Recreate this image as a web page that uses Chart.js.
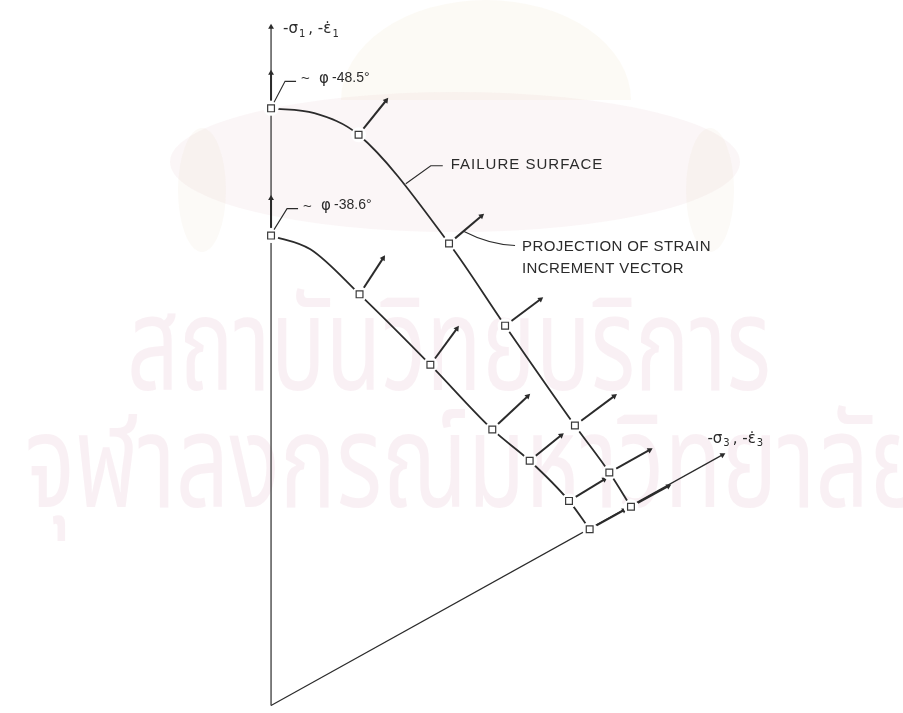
<!DOCTYPE html>
<html>
<head>
<meta charset="utf-8">
<script src="https://cdn.jsdelivr.net/npm/chart.js@4"></script>
<style>
  html, body { margin: 0; padding: 0; background: #fff; }
  #wrap { width: 903px; height: 713px; position: relative; }
</style>
</head>
<body>
<div id="wrap"><canvas id="surfaceChart"></canvas></div>
<script>
// failure surfaces in the octahedral-type plane, origin at the corner of the two stress axes
// upper surface (phi = 48.5 deg) and lower surface (phi = 38.6 deg), test points
const upperX = [0, 17.8, 36.2, 47.6, 61.8, 68.8, 73.2];
const upperY = [122, 116.6, 94.4, 77.6, 57.2, 47.6, 40.6];
const lowerX = [0, 18, 32.4, 45, 52.6, 60.6, 64.8];
const lowerY = [96, 84, 69.6, 56.4, 50, 41.8, 36];

// extra points along each curve near the top where it rounds over
const upperBendX = [8.8];
const upperBendY = [121];
const lowerBendX = [8];
const lowerBendY = [93.2];

// strain increment vectors at each test point (same order as above)
const upperVecX = [0, 5.6, 6.6, 7.2, 8.0, 8.2, 7.6];
const upperVecY = [7.2, 7.0, 5.6, 5.4, 6.0, 4.6, 4.2];
const lowerVecX = [0, 4.8, 5.4, 7.2, 6.4, 7.2, 7.0];
const lowerVecY = [7.6, 7.4, 7.4, 6.8, 5.2, 4.4, 3.9];

// axis ends
const sigma1End = [0, 138.6];
const sigma3End = [91.8, 51.2];

const phiLabels = ['-48.5°', '-38.6°'];

const INK = '#2b2b2b';
const GAP = 1.6; // vectors start a little off the marker

function pts(xs, ys) {
  return xs.map((x, i) => ({ x: x, y: ys[i] }));
}

function curvePts(xs, ys, bx, by) {
  return pts(xs.concat(bx), ys.concat(by)).sort((a, b) => a.x - b.x);
}

function headAngle(dx, dy) {
  return Math.atan2(dx, dy) * 180 / Math.PI;
}

function arrowSet(x0, y0, x1, y1, width) {
  return {
    data: [{ x: x0, y: y0 }, { x: x1, y: y1 }],
    showLine: true,
    borderColor: INK,
    borderWidth: width,
    backgroundColor: INK,
    pointStyle: 'triangle',
    pointRadius: [0, 3.4],
    pointBorderWidth: 0,
    pointRotation: headAngle(x1 - x0, y1 - y0),
    order: 4,
    clip: false
  };
}

function vectorSets(xs, ys, vx, vy) {
  return xs.map((x, i) => {
    const len = Math.hypot(vx[i], vy[i]);
    const sx = x + GAP * vx[i] / len;
    const sy = ys[i] + GAP * vy[i] / len;
    return arrowSet(sx, sy, x + vx[i], ys[i] + vy[i], 2);
  });
}

const datasets = [
  arrowSet(0, 0, sigma1End[0], sigma1End[1], 1.2),
  arrowSet(0, 0, sigma3End[0], sigma3End[1], 1.2),
  {
    data: curvePts(upperX, upperY, upperBendX, upperBendY),
    showLine: true, cubicInterpolationMode: 'monotone',
    borderColor: INK, borderWidth: 1.8, pointRadius: 0, order: 4, clip: false
  },
  {
    data: curvePts(lowerX, lowerY, lowerBendX, lowerBendY),
    showLine: true, cubicInterpolationMode: 'monotone',
    borderColor: INK, borderWidth: 1.8, pointRadius: 0, order: 4, clip: false
  },
  ...vectorSets(upperX, upperY, upperVecX, upperVecY),
  ...vectorSets(lowerX, lowerY, lowerVecX, lowerVecY),
  // white knock-out round each marker so lines stop short of it
  {
    data: pts(upperX.concat(lowerX), upperY.concat(lowerY)),
    pointStyle: 'circle', pointRadius: 7.5, pointBorderWidth: 0,
    backgroundColor: '#fff', order: 2, clip: false
  },
  {
    data: pts(upperX.concat(lowerX), upperY.concat(lowerY)),
    pointStyle: 'rect', pointRadius: 4.8, pointBorderWidth: 1.2,
    borderColor: '#3a3a3a', backgroundColor: '#fff', order: 1, clip: false
  }
];

// faint emblem and institute name behind the drawing
const watermark = {
  id: 'watermark',
  beforeDatasetsDraw(chart) {
    const c = chart.ctx;
    c.save();
    // emblem: wide cushion with a dome on top and hanging tassels
    c.fillStyle = 'rgba(240,222,226,0.26)';
    c.beginPath();
    c.ellipse(455, 162, 285, 70, 0, 0, Math.PI * 2);
    c.fill();
    c.fillStyle = 'rgba(232,214,178,0.13)';
    c.beginPath();
    c.ellipse(486, 100, 145, 100, 0, Math.PI, Math.PI * 2);
    c.closePath();
    c.fill();
    c.fillStyle = 'rgba(232,214,190,0.12)';
    c.beginPath();
    c.ellipse(202, 190, 24, 62, 0, 0, Math.PI * 2);
    c.fill();
    c.beginPath();
    c.ellipse(710, 190, 24, 62, 0, 0, Math.PI * 2);
    c.fill();
    // institute name
    c.fillStyle = 'rgba(236,205,220,0.3)';
    c.textBaseline = 'alphabetic';
    c.font = '130px "Noto Sans Thai", "Noto Sans", sans-serif';
    const l1 = 'สถาบันวิทยบริการ';
    const w1 = c.measureText(l1).width;
    c.save();
    c.translate(127, 390);
    c.scale(644 / w1, 1);
    c.fillText(l1, 0, 0);
    c.restore();
    const l2 = 'จุฬาลงกรณ์มหาวิทยาลัย';
    const w2 = c.measureText(l2).width;
    c.save();
    c.translate(25, 507);
    c.scale(900 / w2, 1);
    c.fillText(l2, 0, 0);
    c.restore();
    c.restore();
  }
};

// axis names, friction angles and call-outs
const callouts = {
  id: 'callouts',
  afterDraw(chart) {
    const c = chart.ctx;
    const xs = chart.scales.x, ys = chart.scales.y;
    const P = (x, y) => [xs.getPixelForValue(x), ys.getPixelForValue(y)];
    c.save();
    c.fillStyle = INK;
    c.strokeStyle = INK;
    c.lineWidth = 1.1;
    c.textBaseline = 'middle';

    function axisName(x, y, idx) {
      const big = '15px "DejaVu Sans", sans-serif';
      const small = '10px "DejaVu Sans", sans-serif';
      c.font = big;
      let t = '-σ';
      c.fillText(t, x, y);
      let cx = x + c.measureText(t).width + 1;
      c.font = small;
      c.fillText(idx, cx, y + 5);
      cx += c.measureText(idx).width + 3;
      c.font = big;
      t = ', -ε̇';
      c.fillText(t, cx, y);
      cx += c.measureText(t).width + 1;
      c.font = small;
      c.fillText(idx, cx, y + 5);
    }

    // sigma 1 axis name at the top of the vertical axis
    let [ax, ay] = P(sigma1End[0], sigma1End[1]);
    axisName(ax + 12, ay + 2, '1');
    // sigma 3 axis name past the end of the inclined axis
    [ax, ay] = P(sigma3End[0], sigma3End[1]);
    axisName(ax - 15, ay - 16, '3');

    // friction angle tags on the two apex points
    const apex = [P(upperX[0], upperY[0]), P(lowerX[0], lowerY[0])];
    const rise = [[14, -27], [16, -27]];
    apex.forEach(([px, py], i) => {
      const kx = px + rise[i][0], ky = py + rise[i][1];
      c.beginPath();
      c.moveTo(px + 3, py - 6);
      c.lineTo(kx, ky);
      c.lineTo(kx + 11, ky);
      c.stroke();
      c.font = '15px "Liberation Sans", Arial, sans-serif';
      c.fillText('~', kx + 16, ky - 2);
      c.font = '15px "DejaVu Sans", sans-serif';
      c.fillText('φ', kx + 34, ky - 2);
      c.font = '14px "Liberation Sans", Arial, sans-serif';
      c.fillText(phiLabels[i], kx + 47, ky - 3);
    });

    c.font = '15px "Liberation Sans", Arial, sans-serif';
    c.letterSpacing = '1px';

    // failure surface call-out, hooked onto the upper curve
    const [fx, fy] = P(27.4, 106.6);
    c.beginPath();
    c.moveTo(fx, fy);
    c.lineTo(fx + 25, fy - 18);
    c.lineTo(fx + 37, fy - 18);
    c.stroke();
    c.fillText('FAILURE SURFACE', fx + 45, fy - 19);

    // strain increment call-out, pointing at the vector of the third upper point
    c.letterSpacing = '0.4px';
    const [qx, qy] = P(upperX[2], upperY[2]);
    c.beginPath();
    c.moveTo(qx + 15, qy - 12);
    c.quadraticCurveTo(qx + 40, qy + 1, qx + 66, qy + 2);
    c.stroke();
    c.fillText('PROJECTION OF STRAIN', qx + 73, qy + 3);
    c.fillText('INCREMENT VECTOR', qx + 73, qy + 25);
    c.restore();
  }
};

new Chart(document.getElementById('surfaceChart'), {
  type: 'scatter',
  data: { datasets: datasets },
  options: {
    responsive: true,
    maintainAspectRatio: false,
    animation: false,
    events: [],
    layout: { padding: 0 },
    plugins: { legend: { display: false }, tooltip: { enabled: false } },
    scales: {
      x: { type: 'linear', min: -53.6, max: 127, display: false },
      y: { type: 'linear', min: 0, max: 142.6, display: false }
    }
  },
  plugins: [watermark, callouts]
});
</script>
</body>
</html>
